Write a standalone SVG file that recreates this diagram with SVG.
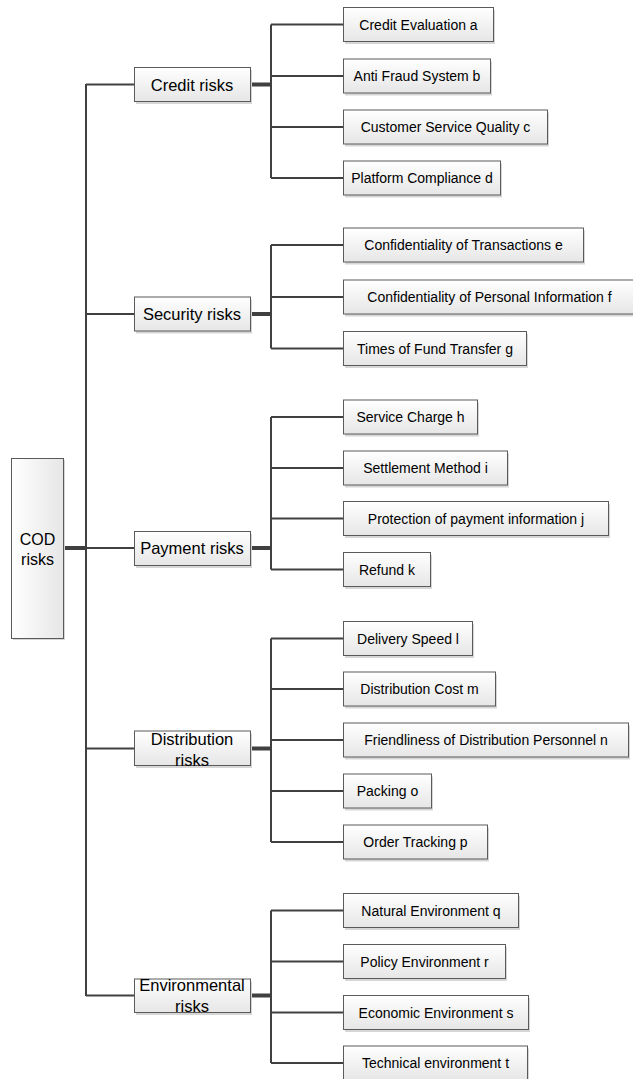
<svg xmlns="http://www.w3.org/2000/svg" width="633" height="1079" viewBox="0 0 633 1079">
<defs>
<linearGradient id="g" x1="0" y1="0" x2="0" y2="1">
<stop offset="0" stop-color="#ffffff"/>
<stop offset="1" stop-color="#e6e6e6"/>
</linearGradient>
<linearGradient id="gr" x1="0" y1="0" x2="1" y2="0">
<stop offset="0" stop-color="#ffffff"/>
<stop offset="1" stop-color="#e6e6e6"/>
</linearGradient>
</defs>
<style>
.box{fill:url(#g);stroke:#5a5a5a;stroke-width:1}
.rootbox{fill:url(#gr);stroke:#5a5a5a;stroke-width:1}
.sh{fill:#d6d6d6}
text{font-family:"Liberation Sans",Arial,sans-serif;fill:#000;text-anchor:middle}
.leaf{font-size:14px}
.l1{font-size:16.5px}
.root{font-size:16px}
.c{stroke:#404040;stroke-width:2;fill:none}
.th{stroke:#404040;stroke-width:4;fill:none}
</style>
<rect width="633" height="1079" fill="#ffffff"/>
<g id="connectors">
<path class="th" d="M63 548H87"/>
<path class="c" d="M86 84V996M86 84.5H134M86 314H134M86 548H134M86 748.5H134M86 995.5H134"/>
<path class="th" d="M250 84.5H272M250 314H272M250 548H272M250 748.5H272M250 995.5H272"/>
<path class="c" d="M271 24.5V178M271 24.5H343M271 76H343M271 127H343M271 178H343"/>
<path class="c" d="M271 245V348.5M271 245H343M271 297H343M271 348.5H343"/>
<path class="c" d="M271 417V569.5M271 417H343M271 468H343M271 518.5H343M271 569.5H343"/>
<path class="c" d="M271 638.5V842M271 638.5H343M271 689H343M271 740H343M271 791H343M271 842H343"/>
<path class="c" d="M271 910.5V1063M271 910.5H343M271 961.5H343M271 1012.5H343M271 1063H343"/>
</g>
<g id="root">
<rect class="sh" x="13" y="460" width="52" height="180"/>
<rect class="rootbox" x="11.5" y="458.5" width="52" height="180"/>
<text class="root" x="37.5" y="545">COD</text>
<text class="root" x="37.5" y="565">risks</text>
</g>
<g id="credit">
<rect class="sh" x="136" y="70" width="116" height="34"/>
<rect class="box" x="134.5" y="67.5" width="116" height="34"/>
<text class="l1" x="192" y="90.5">Credit risks</text>
</g>
<g id="security">
<rect class="sh" x="136" y="299.5" width="116" height="34"/>
<rect class="box" x="134.5" y="297" width="116" height="34"/>
<text class="l1" x="192" y="320">Security risks</text>
</g>
<g id="payment">
<rect class="sh" x="136" y="534" width="116" height="34"/>
<rect class="box" x="134.5" y="531.5" width="116" height="34"/>
<text class="l1" x="192" y="554">Payment risks</text>
</g>
<g id="distribution">
<rect class="sh" x="136" y="733.5" width="116" height="34.5"/>
<rect class="box" x="134.5" y="731" width="116" height="34.5"/>
<text class="l1" x="192" y="744.5">Distribution</text>
<text class="l1" x="192" y="766">risks</text>
</g>
<g id="environmental">
<rect class="sh" x="136" y="981.5" width="116" height="33.5"/>
<rect class="box" x="134.5" y="979" width="116" height="33.5"/>
<text class="l1" x="192" y="991">Environmental</text>
<text class="l1" x="192" y="1012">risks</text>
</g>
<g id="leaf-a"><rect class="sh" x="345" y="10" width="150" height="34"/><rect class="box" x="343.5" y="7.5" width="150" height="34"/><text class="leaf" x="418.5" y="29.5">Credit Evaluation a</text></g>
<g id="leaf-b"><rect class="sh" x="345" y="61.5" width="147" height="34"/><rect class="box" x="343.5" y="59" width="147" height="34"/><text class="leaf" x="417" y="81">Anti Fraud System b</text></g>
<g id="leaf-c"><rect class="sh" x="345" y="112.5" width="204" height="34"/><rect class="box" x="343.5" y="110" width="204" height="34"/><text class="leaf" x="445.5" y="132">Customer Service Quality c</text></g>
<g id="leaf-d"><rect class="sh" x="345" y="163.5" width="157" height="34"/><rect class="box" x="343.5" y="161" width="157" height="34"/><text class="leaf" x="422" y="183">Platform Compliance d</text></g>
<g id="leaf-e"><rect class="sh" x="345" y="230.5" width="240" height="34"/><rect class="box" x="343.5" y="228" width="240" height="34"/><text class="leaf" x="463.5" y="250">Confidentiality of Transactions e</text></g>
<g id="leaf-f"><rect class="sh" x="345" y="282.5" width="297" height="34"/><rect class="box" x="343.5" y="280" width="297" height="34"/><text class="leaf" x="489.5" y="302">Confidentiality of Personal Information f</text></g>
<g id="leaf-g"><rect class="sh" x="345" y="334" width="183" height="34"/><rect class="box" x="343.5" y="331.5" width="183" height="34"/><text class="leaf" x="435" y="353.5">Times of Fund Transfer g</text></g>
<g id="leaf-h"><rect class="sh" x="345" y="402.5" width="134" height="34"/><rect class="box" x="343.5" y="400" width="134" height="34"/><text class="leaf" x="410.5" y="422">Service Charge h</text></g>
<g id="leaf-i"><rect class="sh" x="345" y="453.5" width="164" height="34"/><rect class="box" x="343.5" y="451" width="164" height="34"/><text class="leaf" x="425.5" y="473">Settlement Method i</text></g>
<g id="leaf-j"><rect class="sh" x="345" y="504" width="265" height="34"/><rect class="box" x="343.5" y="501.5" width="265" height="34"/><text class="leaf" x="476" y="523.5">Protection of payment information j</text></g>
<g id="leaf-k"><rect class="sh" x="345" y="555" width="87" height="34"/><rect class="box" x="343.5" y="552.5" width="87" height="34"/><text class="leaf" x="387" y="574.5">Refund k</text></g>
<g id="leaf-l"><rect class="sh" x="345" y="624" width="129" height="34"/><rect class="box" x="343.5" y="621.5" width="129" height="34"/><text class="leaf" x="408" y="643.5">Delivery Speed l</text></g>
<g id="leaf-m"><rect class="sh" x="345" y="674.5" width="152" height="34"/><rect class="box" x="343.5" y="672" width="152" height="34"/><text class="leaf" x="419.5" y="694">Distribution Cost m</text></g>
<g id="leaf-n"><rect class="sh" x="345" y="725.5" width="285" height="34"/><rect class="box" x="343.5" y="723" width="285" height="34"/><text class="leaf" x="486" y="745">Friendliness of Distribution Personnel n</text></g>
<g id="leaf-o"><rect class="sh" x="345" y="776.5" width="88" height="34"/><rect class="box" x="343.5" y="774" width="88" height="34"/><text class="leaf" x="387.5" y="796">Packing o</text></g>
<g id="leaf-p"><rect class="sh" x="345" y="827.5" width="144" height="34"/><rect class="box" x="343.5" y="825" width="144" height="34"/><text class="leaf" x="415.5" y="847">Order Tracking p</text></g>
<g id="leaf-q"><rect class="sh" x="345" y="896" width="175" height="34"/><rect class="box" x="343.5" y="893.5" width="175" height="34"/><text class="leaf" x="431" y="915.5">Natural Environment q</text></g>
<g id="leaf-r"><rect class="sh" x="345" y="947" width="162" height="34"/><rect class="box" x="343.5" y="944.5" width="162" height="34"/><text class="leaf" x="424.5" y="966.5">Policy Environment r</text></g>
<g id="leaf-s"><rect class="sh" x="345" y="998" width="185" height="34"/><rect class="box" x="343.5" y="995.5" width="185" height="34"/><text class="leaf" x="436" y="1017.5">Economic Environment s</text></g>
<g id="leaf-t"><rect class="sh" x="345" y="1048.5" width="184" height="34"/><rect class="box" x="343.5" y="1046" width="184" height="34"/><text class="leaf" x="435.5" y="1068">Technical environment t</text></g>
</svg>
